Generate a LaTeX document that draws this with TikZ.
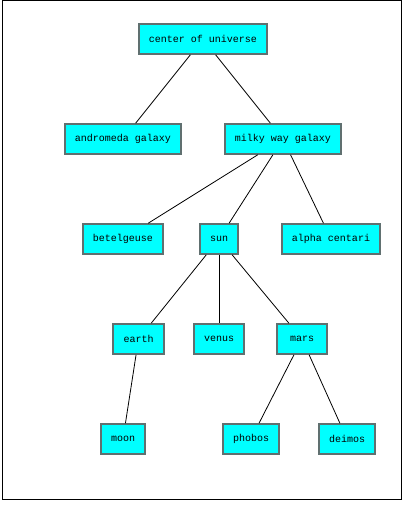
\documentclass[tikz,border=0pt]{standalone}
\usepackage{fontspec}
\setmonofont{Liberation Mono}
\definecolor{boxline}{RGB}{96,112,112}
\definecolor{boxfill}{RGB}{0,255,255}
\tikzset{
  body/.style={draw=boxline, line width=1.6pt, fill=boxfill, inner sep=0pt,
    minimum height=30pt, font=\ttfamily\fontsize{10}{12}\selectfont},
  link/.style={draw=black, line width=0.8pt}
}
\begin{document}
\begin{tikzpicture}[x=1pt, y=-1pt]
\useasboundingbox (0,0) rectangle (412,505);
\draw[line width=1pt] (2.5,1) rectangle (401,499);
\node[body, minimum width=128pt] (universe) at (203,39) {center of universe};
\node[body, minimum width=116pt] (andromeda) at (123,139) {andromeda galaxy};
\node[body, minimum width=116pt] (milkyway) at (283,139) {milky way galaxy};
\node[body, minimum width=80pt] (betelgeuse) at (123,239) {betelgeuse};
\node[body, minimum width=38pt] (sun) at (219,239) {sun};
\node[body, minimum width=98pt] (alpha) at (331,239) {alpha centari};
\node[body, minimum width=51pt] (earth) at (138.5,339) {earth};
\node[body, minimum width=50pt] (venus) at (219,339) {venus};
\node[body, minimum width=50pt] (mars) at (302,339) {mars};
\node[body, minimum width=44pt] (moon) at (123,439) {moon};
\node[body, minimum width=56pt] (phobos) at (251,439) {phobos};
\node[body, minimum width=56pt] (deimos) at (347,439) {deimos};
\draw[link] (universe) -- (andromeda);
\draw[link] (universe) -- (milkyway);
\draw[link] (milkyway) -- (betelgeuse);
\draw[link] (milkyway) -- (sun);
\draw[link] (milkyway) -- (alpha);
\draw[link] (sun) -- (earth);
\draw[link] (sun) -- (venus);
\draw[link] (sun) -- (mars);
\draw[link] (earth) -- (moon);
\draw[link] (mars) -- (phobos);
\draw[link] (mars) -- (deimos);
\end{tikzpicture}
\end{document}
